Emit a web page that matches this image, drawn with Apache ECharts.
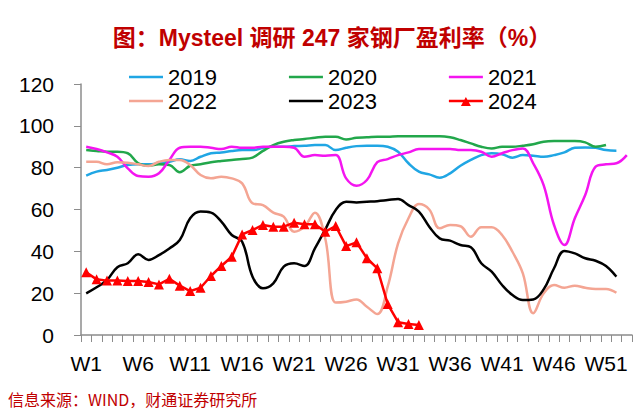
<!DOCTYPE html>
<html>
<head>
<meta charset="utf-8">
<script src="https://cdn.jsdelivr.net/npm/echarts@6/dist/echarts.min.js"></script>
<style>html,body{margin:0;padding:0;background:#fff}#c{width:640px;height:414px}</style>
</head>
<body>
<div id="c"></div>
<script>
var weeks = ["W1","W2","W3","W4","W5","W6","W7","W8","W9","W10","W11","W12","W13","W14","W15","W16","W17","W18","W19","W20","W21","W22","W23","W24","W25","W26","W27","W28","W29","W30","W31","W32","W33","W34","W35","W36","W37","W38","W39","W40","W41","W42","W43","W44","W45","W46","W47","W48","W49","W50","W51","W52","W53"];
var yTicks = [0, 20, 40, 60, 80, 100, 120];

var d2019 = [76.2,78.1,78.9,80,81.3,81.6,81.6,82.1,82.8,84,83.2,85.2,86.9,87.3,88,88.4,88.4,89.5,90,90,90.3,90.5,90.8,90.8,88.4,89.5,90.3,90.5,90.5,90,87.6,82.1,78.1,76.8,75.2,77.3,80.9,83.7,86,86.9,86.4,84.8,86,85.7,85.2,86,87.3,89.5,89.7,89.5,88.4,88.1];
var d2020 = [88.4,88,87.6,87.6,86.9,82.1,80.9,81.6,81.3,77.8,80.9,81.6,82.6,83.2,83.7,84.1,84.8,88,90.8,92.4,93.2,93.7,94.3,94.8,94.8,93.5,94.3,94.5,94.8,94.8,95,95,95,95,95,94.5,93.2,91.6,90,89.2,90,90,90.5,91.2,92.4,92.7,92.7,92.7,92.1,90,90.8];
var d2021 = [90,88.9,87.3,85.2,79.7,76,75.7,77.3,83.7,89.5,90,90,89.5,88.9,90,89.5,89.5,90,90,90,89.5,85.2,86,85.7,86,74.9,71.4,74.1,82.6,84.1,86,87.3,88.9,88.9,88.9,88.9,88.4,88.4,87.6,85.2,86.9,88.4,89.2,82.1,71.7,52.6,43,55.8,66.9,80.5,81.6,82.1,86];
var d2022 = [82.8,82.8,81.6,82.6,82.4,81.6,80.8,82.8,83.7,83.7,81.3,76.5,74.9,75.7,74.9,72.5,63,62.1,58.5,56.6,49.4,51.8,58.5,46,15.5,15.9,17,13.5,10,23.1,43.8,55.8,62.6,60,51,52.6,52,47,51.5,51.5,47.8,39.8,29.5,10.4,19.9,23.9,22.6,23.6,22.6,22,22,20.2];
var d2023 = [19.9,22.8,26.3,32.4,34.3,38.6,35.9,38.2,41.4,45.4,55.8,59,58.5,54.2,47.8,44.6,27.9,22.3,24.7,32.7,34.3,33,41.4,50.5,59.8,63.7,63.4,63.7,64,64.5,65,62.1,59,51.8,46.2,45.1,43,42,34.3,30.3,23.9,19.1,16.7,17,21.8,31.9,40.2,39,36.7,35.5,33,27.9];
var d2024 = [30,26.6,26,26,25.8,25.8,25.3,24.2,26.9,23.6,21,22.6,28.2,33,37.4,48.1,50.2,52.6,51.8,51.8,53.7,52.9,52.9,49.4,52.1,42.5,44.3,36.7,31.9,14.8,6.1,5.3,4.8];

var names = ["2019","2020","2021","2022","2023","2024"];
var values = [d2019, d2020, d2021, d2022, d2023, d2024];
var colors = ["#20A6E4","#22A74B","#F415F0","#F4A593","#000000","#FF0000"];

var lineIcon = "path://M0,0L0.01,0Z M0,3.8H34V6.2H0Z M0,10L0.01,10Z";
var markIcon = "path://M0,0L0.01,0Z M0,3.8H34V6.2H0Z M12,10L17,1L22,10Z";

var series = names.map(function (n, i) {
  var isMark = n === "2024";
  return {
    name: n,
    type: "line",
    data: values[i],
    smooth: isMark ? false : 0.4,
    symbol: isMark ? "triangle" : "none",
    symbolSize: 10,
    showSymbol: isMark,
    showAllSymbol: true,
    lineStyle: { color: colors[i], width: 2.5 },
    itemStyle: { color: colors[i] },
    emphasis: { disabled: true },
    animation: false,
    z: 2 + i
  };
});

function legendData(list) {
  return list.map(function (n) { return { name: n, icon: n === "2024" ? markIcon : lineIcon }; });
}

var legendText = { fontSize: 22, color: "#000", fontFamily: "Liberation Sans, Arial, sans-serif" };
var chart = echarts.init(document.getElementById("c"), null, { renderer: "svg" });
chart.setOption({
  animation: false,
  title: {
    text: "图：Mysteel 调研 247 家钢厂盈利率（%）",
    left: 327, top: 21, textAlign: "center",
    textStyle: { fontSize: 23, fontWeight: "bold", color: "#C00000", fontFamily: "Liberation Sans, Noto Sans CJK SC, sans-serif" }
  },
  legend: [
    { data: legendData(["2019","2020","2021"]), left: 124, top: 61, itemWidth: 34, itemHeight: 10, itemGap: 72, textStyle: legendText, selectedMode: false },
    { data: legendData(["2022","2023","2024"]), left: 124, top: 85, itemWidth: 34, itemHeight: 10, itemGap: 72, textStyle: legendText, selectedMode: false }
  ],
  grid: { left: 81, right: 8, top: 84, bottom: 79, containLabel: false },
  xAxis: {
    type: "category",
    data: weeks,
    boundaryGap: true,
    axisLine: { lineStyle: { color: "#8C8C8C", width: 1.5 } },
    axisTick: { show: true, interval: 0, length: 7, lineStyle: { color: "#8C8C8C", width: 1 } },
    axisLabel: { interval: 4, fontSize: 21, color: "#000", margin: 18, fontFamily: "Liberation Sans, Arial, sans-serif" },
    splitLine: { show: false }
  },
  yAxis: {
    type: "value",
    min: yTicks[0], max: yTicks[yTicks.length - 1], interval: 20,
    axisLine: { show: true, lineStyle: { color: "#8C8C8C", width: 1.5 } },
    axisTick: { show: true, length: 7, lineStyle: { color: "#8C8C8C" } },
    axisLabel: { fontSize: 21, color: "#000", margin: 27, fontFamily: "Liberation Sans, Arial, sans-serif" },
    splitLine: { show: false }
  },
  graphic: [
    { type: "text", left: 8, top: 391, style: { text: "信息来源：WIND，财通证券研究所", fill: "#C00000", font: "16px 'Noto Sans CJK SC', sans-serif" } }
  ],
  series: series
});
</script>
</body>
</html>
